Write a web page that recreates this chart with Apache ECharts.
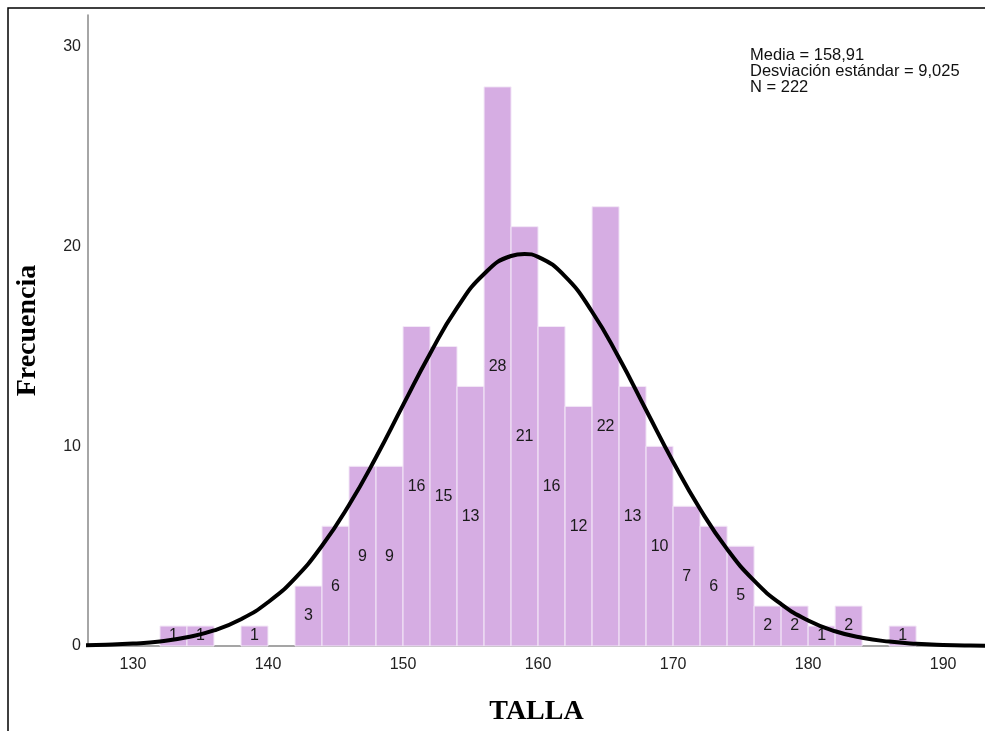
<!DOCTYPE html>
<html>
<head>
<meta charset="utf-8">
<script src="https://cdn.jsdelivr.net/npm/echarts@6/dist/echarts.min.js"></script>
<style>
  html, body { margin: 0; padding: 0; background: #fff; }
  #chart { width: 985px; height: 731px; }
</style>
</head>
<body>
<div id="chart"></div>
<script>
// histogram bins (left edge, width 2) and their counts
const binStart = [132, 134, 138, 142, 144, 146, 148, 150, 152, 154, 156, 158, 160, 162, 164, 166, 168, 170, 172, 174, 176, 178, 180, 182, 186];
const binCount = [1, 1, 1, 3, 6, 9, 9, 16, 15, 13, 28, 21, 16, 12, 22, 13, 10, 7, 6, 5, 2, 2, 1, 2, 1];
const binWidth = 2;

// normal curve
const curveX = [126, 128, 130, 132, 134, 136, 138, 140, 142, 144, 146, 148, 150, 152, 154, 156, 158, 159, 160, 162, 164, 166, 168, 170, 172, 174, 176, 178, 180, 182, 184, 186, 188, 190, 192, 194];
const curveY = [0.03, 0.06, 0.12, 0.23, 0.44, 0.78, 1.34, 2.19, 3.39, 5.02, 7.06, 9.45, 12.06, 14.64, 16.93, 18.63, 19.53, 19.63, 19.49, 18.51, 16.74, 14.42, 11.82, 9.23, 6.86, 4.85, 3.27, 2.1, 1.28, 0.74, 0.41, 0.22, 0.11, 0.05, 0.02, 0.01];

const xTicks = [130, 140, 150, 160, 170, 180, 190];
const yTicks = [0, 10, 20, 30];
const statsLines = ['Media = 158,91', 'Desviación estándar = 9,025', 'N = 222'];

const chart = echarts.init(document.getElementById('chart'));

const histData = binStart.map((s, i) => [s, s + binWidth, binCount[i]]);
const curveData = curveX.map((x, i) => [x, curveY[i]]);

const option = {
  animation: false,
  graphic: [
    {
      type: 'rect',
      shape: { x: 8, y: 8, width: 1000, height: 800 },
      style: { fill: 'none', stroke: '#000', lineWidth: 1.5 },
      silent: true,
      z: 0
    },
    {
      type: 'text',
      left: 750,
      top: 47,
      style: {
        text: statsLines.join('\n'),
        font: '16.5px "Liberation Sans", Arial, sans-serif',
        lineHeight: 16,
        fill: '#111'
      },
      z: 10
    }
  ],
  grid: { left: 88, right: 0, top: 15, bottom: 83 },
  xAxis: {
    type: 'value',
    min: 126.67,
    max: 193.1,
    name: 'TALLA',
    nameLocation: 'middle',
    nameGap: 52,
    nameTextStyle: {
      fontFamily: '"Liberation Serif", "Times New Roman", serif',
      fontWeight: 'bold',
      fontSize: 28,
      color: '#000'
    },
    axisLine: { show: true, lineStyle: { color: '#888', width: 1.5 } },
    axisTick: { show: false },
    splitLine: { show: false },
    axisLabel: {
      customValues: xTicks,
      margin: 11,
      fontSize: 16,
      fontFamily: '"Liberation Sans", Arial, sans-serif',
      color: '#222'
    }
  },
  yAxis: {
    type: 'value',
    min: 0,
    max: 31.6,
    name: 'Frecuencia',
    nameLocation: 'middle',
    nameRotate: 90,
    nameGap: 46,
    nameTextStyle: {
      fontFamily: '"Liberation Serif", "Times New Roman", serif',
      fontWeight: 'bold',
      fontSize: 28,
      color: '#000'
    },
    axisLine: { show: true, lineStyle: { color: '#888', width: 1.5 } },
    axisTick: { show: false },
    splitLine: { show: false },
    axisLabel: {
      customValues: yTicks,
      margin: 7,
      fontSize: 16,
      fontFamily: '"Liberation Sans", Arial, sans-serif',
      color: '#222'
    }
  },
  series: [
    {
      type: 'custom',
      z: 2,
      data: histData,
      encode: { x: [0, 1], y: 2 },
      renderItem: (params, api) => {
        const p0 = api.coord([api.value(0), api.value(2)]);
        const p1 = api.coord([api.value(1), 0]);
        return {
          type: 'rect',
          shape: { x: p0[0], y: p0[1], width: p1[0] - p0[0], height: p1[1] - p0[1] },
          style: { fill: '#D6ADE3', stroke: '#F3E8F7', lineWidth: 1 },
          textContent: {
            style: {
              text: String(api.value(2)),
              font: '16px "Liberation Sans", Arial, sans-serif',
              fill: '#1a1a1a'
            }
          },
          textConfig: { position: 'inside' }
        };
      }
    },
    {
      type: 'line',
      z: 3,
      data: curveData,
      smooth: true,
      symbol: 'none',
      lineStyle: { color: '#000', width: 4 }
    }
  ]
};

chart.setOption(option);
window.addEventListener('resize', () => chart.resize());
</script>
</body>
</html>
